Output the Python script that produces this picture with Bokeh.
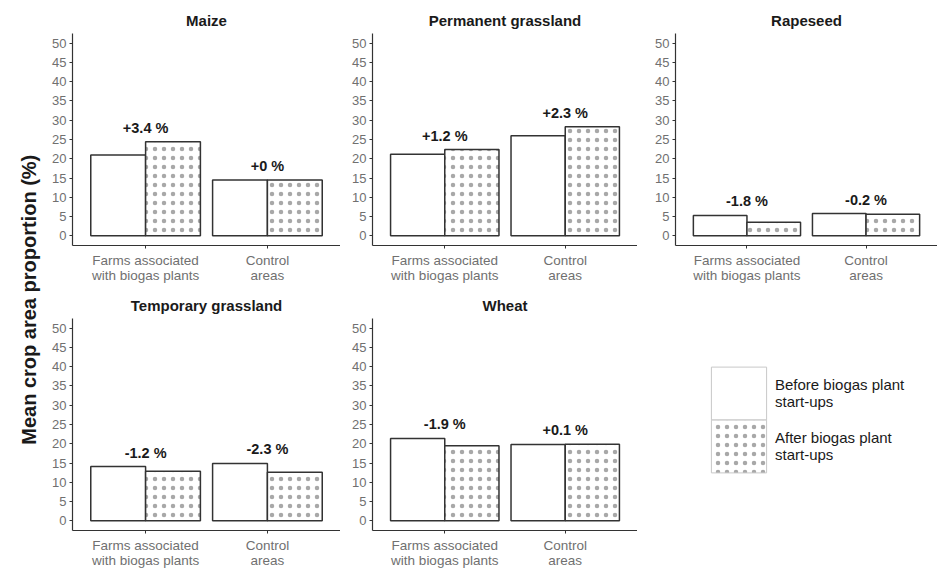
import math
from bokeh.plotting import figure
from bokeh.models import (ColumnDataSource, FactorRange, Range1d, FixedTicker,
                          Legend, LegendItem)
from bokeh.layouts import row, column
from bokeh.transform import dodge
from bokeh.core.properties import value
from bokeh.embed import file_html
from bokeh.resources import INLINE

# ---------------- data ----------------
groups = ["Farms associated\nwith biogas plants", "Control\nareas"]

maize_before = [21.0, 14.5]
maize_after = [24.4, 14.5]
maize_change = ["+3.4 %", "+0 %"]

permgrass_before = [21.2, 26.0]
permgrass_after = [22.4, 28.3]
permgrass_change = ["+1.2 %", "+2.3 %"]

rapeseed_before = [5.3, 5.8]
rapeseed_after = [3.5, 5.6]
rapeseed_change = ["-1.8 %", "-0.2 %"]

tempgrass_before = [14.1, 14.9]
tempgrass_after = [12.9, 12.6]
tempgrass_change = ["-1.2 %", "-2.3 %"]

wheat_before = [21.4, 19.8]
wheat_after = [19.5, 19.9]
wheat_change = ["-1.9 %", "+0.1 %"]

y_ticks = [0, 5, 10, 15, 20, 25, 30, 35, 40, 45, 50]
legend_labels = ["Before biogas plant\nstart-ups", "After biogas plant\nstart-ups"]
y_title = "Mean crop area proportion (%)"

FONT = "Liberation Sans"
TICK_COLOR = "#707070"
BAR_LINE = "#333333"
HATCH = dict(hatch_pattern="dot", hatch_color="#a8a8a8", hatch_scale=9, hatch_weight=0.5)


def make_panel(title, before, after, labels, width, left_border, right_border, height, bottom_border):
    src = ColumnDataSource(dict(
        group=groups, before=before, after=after,
        top=[max(b, a) for b, a in zip(before, after)], label=labels))
    p = figure(x_range=FactorRange(factors=groups, range_padding=0.1, range_padding_units="absolute"),
               y_range=Range1d(-2.5, 52.5), width=width, height=height,
               output_backend="svg", toolbar_location=None,
               min_border_left=left_border, min_border_right=right_border,
               min_border_top=33, min_border_bottom=bottom_border)
    p.outline_line_color = None
    p.grid.visible = False
    p.vbar(x=dodge("group", -0.225, range=p.x_range), top="before", bottom=0, width=0.45,
           source=src, fill_color="white", line_color=BAR_LINE, line_width=1.5)
    p.vbar(x=dodge("group", 0.225, range=p.x_range), top="after", bottom=0, width=0.45,
           source=src, fill_color="white", line_color=BAR_LINE, line_width=1.5, **HATCH)
    p.text(x="group", y="top", text="label", source=src, y_offset=-14,
           text_align="center", text_baseline="middle",
           text_font=value(FONT), text_font_style="bold", text_font_size="14.5px",
           text_color="#1a1a1a")

    p.title.text = title
    p.title.align = "center"
    p.title.text_font = FONT
    p.title.text_font_size = "15px"
    p.title.text_font_style = "bold"
    p.title.text_color = "#1a1a1a"
    p.title.standoff = 9

    p.yaxis.ticker = FixedTicker(ticks=y_ticks)
    for ax in (p.xaxis[0], p.yaxis[0]):
        ax.axis_line_color = "#333333"
        ax.axis_line_width = 1.2
        ax.major_tick_line_color = "#333333"
        ax.major_tick_in = 0
        ax.major_tick_out = 3
        ax.minor_tick_line_color = None
        ax.major_label_text_font = FONT
        ax.major_label_text_color = TICK_COLOR
    p.yaxis.major_label_text_font_size = "13px"
    p.yaxis.major_label_standoff = 3
    p.xaxis.major_label_text_font_size = "13.5px"
    p.xaxis.major_label_text_line_height = 1.0
    p.xaxis.major_label_standoff = 4
    return p


H1 = 285
H2 = 285
p1 = make_panel("Maize", maize_before, maize_after, maize_change, 298, 30, 0, H1, 38)
p2 = make_panel("Permanent grassland", permgrass_before, permgrass_after, permgrass_change, 297, 32, 0, H1, 38)
p3 = make_panel("Rapeseed", rapeseed_before, rapeseed_after, rapeseed_change, 300, 38, 0, H1, 38)
p4 = make_panel("Temporary grassland", tempgrass_before, tempgrass_after, tempgrass_change, 298, 30, 0, H2, 38)
p5 = make_panel("Wheat", wheat_before, wheat_after, wheat_change, 297, 32, 0, H2, 38)

# legend panel: one legend per key so that the two keys touch, as in the reference
pl = figure(width=300, height=H2, x_range=Range1d(0, 1), y_range=Range1d(0, 1),
            x_axis_location=None, y_axis_location=None, output_backend="svg",
            toolbar_location=None, min_border=0)
pl.outline_line_color = None
pl.grid.visible = False
r_before = pl.vbar(x=[5], top=[5], bottom=4, width=0.1, fill_color="white",
                   line_color="#c8c8c8", line_width=1)
r_after = pl.vbar(x=[5], top=[5], bottom=4, width=0.1, fill_color="white",
                  line_color="#c8c8c8", line_width=1, **HATCH)
LEG_STYLE = dict(glyph_width=69, glyph_height=66, spacing=0, padding=0, margin=0,
                 border_line_color=None, background_fill_alpha=0,
                 label_text_font=FONT, label_text_font_size="15px", label_text_color="#1a1a1a",
                 label_text_line_height=1.1, label_standoff=2, label_height=66)
leg_a = Legend(items=[LegendItem(label=legend_labels[0], renderers=[r_before])],
               location=(67, 104), **LEG_STYLE)
leg_b = Legend(items=[LegendItem(label=legend_labels[1], renderers=[r_after])],
               location=(67, 51), **LEG_STYLE)
pl.add_layout(leg_a)
pl.add_layout(leg_b)

# y-axis title panel
py = figure(width=42, height=H1 + H2, x_range=Range1d(0, 1), y_range=Range1d(0, 1),
            x_axis_location=None, y_axis_location=None, output_backend="svg",
            toolbar_location=None, min_border=0)
py.outline_line_color = None
py.grid.visible = False
py.text(x=[0.68], y=[0.475], text=[y_title], angle=math.pi / 2,
        text_align="center", text_baseline="middle",
        text_font=value(FONT), text_font_size="20px", text_font_style="bold",
        text_color="#1a1a1a")

layout = row(py, column(row(p1, p2, p3), row(p4, p5, pl)))

html = file_html(layout, INLINE)
with open("out.html", "w") as f:
    f.write(html)
